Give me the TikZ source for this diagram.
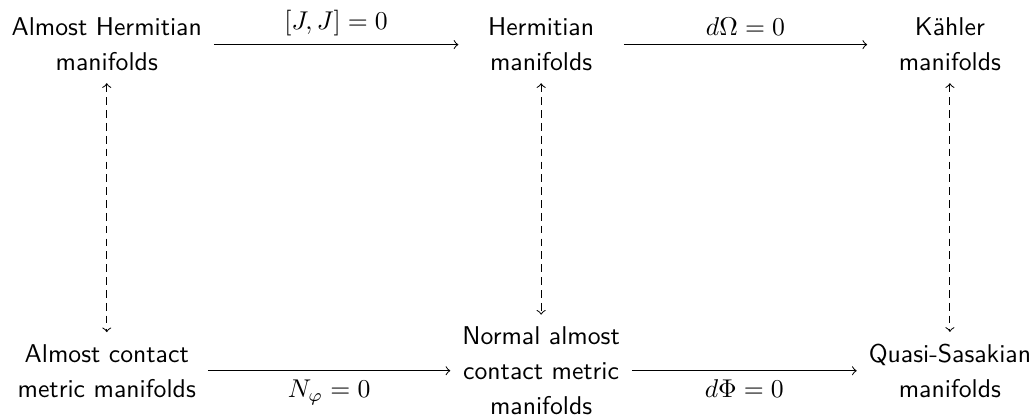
\documentclass[tikz,border=0pt]{standalone}
\usepackage{fontspec}
\usepackage{amsmath}
\usepackage{tikz}
\usetikzlibrary{positioning}

\begin{document}
\begin{tikzpicture}[
    font=\sffamily\fontsize{10}{13.6}\selectfont,
    >=to,
    manif/.style={align=center, inner sep=4.5pt, minimum width=2.25cm},
    imp/.style={->},
    equiv/.style={<->, dash pattern=on 3pt off 2pt},
    cond/.style={font=\normalfont}
]
    \useasboundingbox (0,0) rectangle (14.14,-5.72);
    % top row
    \node[manif] (ahm) at (1.46,-0.61) {Almost Hermitian\\manifolds};
    \node[manif] (herm) at (7.40,-0.61) {Hermitian\\manifolds};
    \node[manif] (kah) at (12.99,-0.61) {Kähler\\manifolds};
    % bottom row
    \node[manif] (acm) at (1.46,-5.07) {Almost contact\\metric manifolds};
    \node[manif] (nacm) at (7.40,-5.07) {Normal almost\\contact metric\\manifolds};
    \node[manif] (qs) at (12.99,-5.07) {Quasi-Sasakian\\manifolds};
    \draw[imp] (ahm) -- node[cond, above] {$[J,J]=0$} (herm);
    \draw[imp] (herm) -- node[cond, above] {$d\Omega=0$} (kah);
    \draw[imp] (acm) -- node[cond, below] {$N_\varphi=0$} (nacm);
    \draw[imp] (nacm) -- node[cond, below] {$d\Phi=0$} (qs);
    \draw[equiv] (ahm) -- (acm);
    \draw[equiv] (herm) -- (nacm);
    \draw[equiv] (kah) -- (qs);
\end{tikzpicture}
\end{document}
